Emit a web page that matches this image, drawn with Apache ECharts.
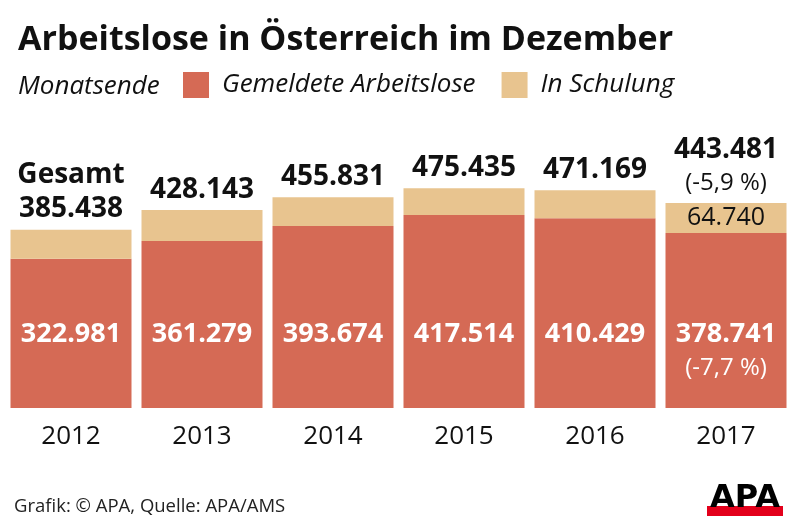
<!DOCTYPE html>
<html>
<head>
<meta charset="utf-8">
<script src="https://cdn.jsdelivr.net/npm/echarts@6/dist/echarts.min.js"></script>
<style>
html,body{margin:0;padding:0;background:#fff;}
#chart{width:800px;height:528px;}
</style>
</head>
<body>
<div id="chart"></div>
<script>
// ---- data ----
var years = ['2012', '2013', '2014', '2015', '2016', '2017'];
var gemeldet = [322981, 361279, 393674, 417514, 410429, 378741];
var schulung = [62457, 66864, 62157, 57921, 60740, 64740];
var gesamt = [385438, 428143, 455831, 475435, 471169, 443481];
var changeGesamt2017 = '-5,9 %';
var changeGemeldet2017 = '-7,7 %';

var FONT = '"Open Sans", "Noto Sans", sans-serif';
var RED = '#D56A55';
var TAN = '#E8C48F';

function fmt(v) {
  return String(v).replace(/\B(?=(\d{3})+(?!\d))/g, '.');
}

var last = years.length - 1;

var redData = gemeldet.map(function (v, i) {
  return {
    value: v,
    label: { distance: i === last ? 23 : 57 }
  };
});
var tanData = schulung.map(function (v, i) {
  return { value: v, label: { show: i === last } };
});

var chart = echarts.init(document.getElementById('chart'), null, { renderer: 'canvas' });
chart.setOption({
  animation: false,
  backgroundColor: '#ffffff',
  textStyle: { fontFamily: FONT },
  grid: { left: 5.5, right: 8.5, top: 108, bottom: 120, containLabel: false },
  legend: {
    data: ['Gemeldete Arbeitslose', 'In Schulung'],
    left: 183, top: 72,
    padding: 0,
    itemWidth: 26, itemHeight: 26, itemGap: 26,
    icon: 'rect',
    textStyle: { fontFamily: FONT, fontStyle: 'italic', fontSize: 26, color: '#111', padding: [0, 0, 0, 8] }
  },
  graphic: [
    { type: 'text', left: 18, top: 23,
      style: { text: 'Arbeitslose in Österreich im Dezember', font: 'bold 34px ' + FONT, fill: '#111' } },
    { type: 'text', left: 18, top: 74,
      style: { text: 'Monatsende', font: 'italic 26px ' + FONT, fill: '#111' } },
    { type: 'text', left: 14, top: 497,
      style: { text: 'Grafik: © APA, Quelle: APA/AMS', font: '18.5px ' + FONT, fill: '#222' } },
    { type: 'rect', shape: { x: 707, y: 506, width: 76, height: 10 }, style: { fill: '#E3001B' } },
    { type: 'text', x: 745, y: 514.5,
      style: { text: 'APA', font: 'bold 32px "DejaVu Sans", sans-serif', fill: '#000', textAlign: 'center', textVerticalAlign: 'bottom' } }
  ],
  xAxis: {
    type: 'category',
    data: years,
    axisLine: { show: false },
    axisTick: { show: false },
    axisLabel: { fontSize: 26, color: '#111', margin: 16, fontFamily: FONT }
  },
  yAxis: {
    type: 'value',
    min: 0, max: 648900,
    show: false,
    splitLine: { show: false }
  },
  series: [
    {
      name: 'Gemeldete Arbeitslose',
      type: 'bar',
      stack: 'total',
      barWidth: 121,
      itemStyle: { color: RED },
      data: redData,
      label: {
        show: true,
        position: 'insideBottom',
        formatter: function (p) {
          var s = '{a|' + fmt(p.value) + '}';
          if (p.dataIndex === last) s += '\n{b|(' + changeGemeldet2017 + ')}';
          return s;
        },
        rich: {
          a: { fontSize: 27, fontWeight: 'bold', color: '#fff', lineHeight: 34, fontFamily: FONT },
          b: { fontSize: 24, color: '#fff', lineHeight: 34, fontFamily: FONT }
        }
      }
    },
    {
      name: 'In Schulung',
      type: 'bar',
      stack: 'total',
      barWidth: 121,
      itemStyle: { color: TAN },
      data: tanData,
      label: {
        show: false,
        position: 'inside',
        formatter: function (p) { return fmt(p.value); },
        fontSize: 25, color: '#111', fontFamily: FONT
      }
    },
    {
      name: 'Gesamt',
      type: 'line',
      data: gesamt,
      symbol: 'circle',
      symbolSize: 1,
      itemStyle: { color: 'rgba(0,0,0,0)' },
      lineStyle: { opacity: 0 },
      silent: true,
      label: {
        show: true,
        position: 'top',
        distance: 3,
        formatter: function (p) {
          var s = '{a|' + fmt(p.value) + '}';
          if (p.dataIndex === 0) s = '{a|Gesamt}\n' + s;
          if (p.dataIndex === last) s += '\n{b|(' + changeGesamt2017 + ')}';
          return s;
        },
        rich: {
          a: { fontSize: 28, fontWeight: 'bold', color: '#111', lineHeight: 34, fontFamily: FONT },
          b: { fontSize: 24, color: '#111', lineHeight: 32, fontFamily: FONT }
        }
      }
    }
  ]
});
</script>
</body>
</html>
